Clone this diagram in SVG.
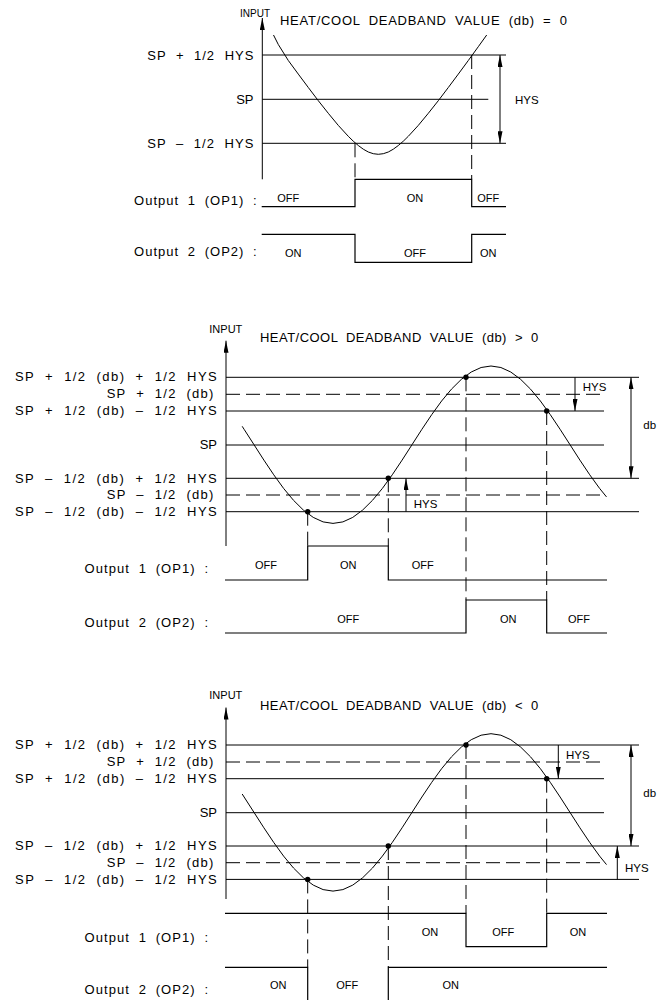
<svg xmlns="http://www.w3.org/2000/svg" xmlns:xlink="http://www.w3.org/1999/xlink" width="670" height="1000" viewBox="0 0 670 1000">
<style>
.ln{stroke:#000;stroke-width:1;fill:none}
.dash{stroke-dasharray:14 6}
.sig{stroke:#000;stroke-width:1.2;fill:none}
.crv{stroke:#000;stroke-width:1;fill:none;stroke-linejoin:round}
text{font-family:"Liberation Sans",Arial,sans-serif;fill:#000}
.lbl{font-size:13px;word-spacing:5px}
.out{font-size:13px;word-spacing:4px}
.st{font-size:11px;text-anchor:middle}
.ttl{font-size:13px;word-spacing:4px}
.inp{font-size:10.5px}
.hys{font-size:11.5px}
.end{text-anchor:end}
</style>
<defs>
<marker id="ah" viewBox="0 0 12 5" refX="12" refY="2.5" markerWidth="12" markerHeight="5" markerUnits="userSpaceOnUse" orient="auto-start-reverse"><path d="M0,0 L12,2.5 L0,5 z" fill="#000"/></marker>
<polyline id="wave" class="crv" points="242.2,426.3 244.1,429.3 254,444.7 263.9,460.1 273.75,474.8 283.6,488.4 293.5,500.3 303.4,510.1 313.25,517.4 323.1,521.9 333,523.4 342.9,521.9 352.75,517.4 362.6,510.1 372.5,500.3 382.4,488.4 392.25,474.8 402.1,460.1 412,444.7 421.9,429.3 431.75,414.6 441.6,401 451.5,389.1 461.4,379.3 471.25,372 481.1,367.5 491,366 500.9,367.5 510.75,372 520.6,379.3 530.5,389.1 540.4,401 550.25,414.6 560.1,429.3 570,444.7 579.9,460.1 589.75,474.8 599.6,488.4 606.5,496.9"/>
</defs>
<rect width="670" height="1000" fill="#fff"/>

<!-- ================= PANEL 1: db = 0 ================= -->
<g id="panel-db-zero">
  <g id="p1-axis">
    <line class="ln" x1="262.3" y1="179.3" x2="262.3" y2="18" marker-end="url(#ah)"/>
    <text class="inp" x="240" y="17.3" style="font-size:10px">INPUT</text>
    <text class="ttl" x="280" y="25" textLength="287" lengthAdjust="spacing">HEAT/COOL DEADBAND VALUE (db) = 0</text>
  </g>
  <g id="p1-levels">
    <line class="ln" x1="262.3" y1="55" x2="506" y2="55"/>
    <line class="ln" x1="262.3" y1="99.3" x2="488.3" y2="99.3"/>
    <line class="ln" x1="262.3" y1="143.3" x2="506" y2="143.3"/>
    <text class="lbl" x="147.3" y="59.5" textLength="106" lengthAdjust="spacing">SP + 1/2 HYS</text>
    <text class="lbl end" x="253.5" y="103.8">SP</text>
    <text class="lbl" x="147.3" y="147.8" textLength="106" lengthAdjust="spacing">SP – 1/2 HYS</text>
  </g>
  <g id="p1-curve">
    <polyline class="crv" points="273.5,35 278.3,44.5 288.3,60.5 298.3,74.1 308.3,87.5 318.3,100.7 328.3,113.3 338.3,125.4 348.3,136.3 353.3,141.2 358.3,145.5 363.3,149.2 368.3,152 373.3,153.7 378.3,154.3 383.3,153.7 388.3,152 393.3,149.2 398.3,145.5 403.3,141.2 408.3,136.3 418.3,125.4 428.3,113.3 438.3,100.7 448.3,87.5 458.3,74.1 468.3,60.5 478.3,46.7 486.7,35"/>
  </g>
  <g id="p1-hys">
    <line class="ln" x1="500" y1="55" x2="500" y2="143.3" marker-start="url(#ah)" marker-end="url(#ah)"/>
    <text class="hys" x="515" y="103.5">HYS</text>
  </g>
  <g id="p1-op1">
    <text class="out" x="134" y="205" textLength="122.7" lengthAdjust="spacing">Output 1 (OP1) :</text>
    <polyline class="sig" points="261.7,206.7 355,206.7 355,179.3 471.7,179.3 471.7,206.7 506,206.7"/>
    <text class="st" x="288.3" y="201.7">OFF</text>
    <text class="st" x="415" y="201.7">ON</text>
    <text class="st" x="488.3" y="201.7">OFF</text>
  </g>
  <g id="p1-op2">
    <text class="out" x="134" y="256" textLength="122.7" lengthAdjust="spacing">Output 2 (OP2) :</text>
    <polyline class="sig" points="261.7,234.3 355,234.3 355,262.3 471.7,262.3 471.7,234.3 506,234.3"/>
    <text class="st" x="293.3" y="257.3">ON</text>
    <text class="st" x="415" y="257.3">OFF</text>
    <text class="st" x="488.3" y="257.3">ON</text>
  </g>
  <g id="p1-connectors">
    <line class="ln dash" x1="355" y1="143.3" x2="355" y2="179.3"/>
    <line class="ln dash" x1="471.7" y1="55" x2="471.7" y2="179.3"/>
  </g>
</g>

<!-- ================= PANEL 2: db > 0 ================= -->
<g id="panel-db-pos">
  <g id="p2-axis">
    <line class="ln" x1="226" y1="546" x2="226" y2="340.7" marker-end="url(#ah)"/>
    <text class="inp" x="209.3" y="332.7" style="font-size:11px">INPUT</text>
    <text class="ttl" x="260" y="341.7" textLength="278.3" lengthAdjust="spacing">HEAT/COOL DEADBAND VALUE (db) &gt; 0</text>
  </g>
  <g id="p2-levels">
    <line class="ln" x1="226" y1="377.3" x2="639" y2="377.3"/>
    <line class="ln dash" x1="226" y1="394.3" x2="606" y2="394.3"/>
    <line class="ln" x1="226" y1="411" x2="604" y2="411"/>
    <line class="ln" x1="226" y1="445" x2="604" y2="445"/>
    <line class="ln" x1="226" y1="478.3" x2="639" y2="478.3"/>
    <line class="ln dash" x1="226" y1="495" x2="606" y2="495"/>
    <line class="ln" x1="226" y1="511.7" x2="639" y2="511.7"/>
    <text class="lbl" x="15" y="381.3" textLength="201.7" lengthAdjust="spacing">SP + 1/2 (db) + 1/2 HYS</text>
    <text class="lbl" x="106.7" y="398" textLength="106.7" lengthAdjust="spacing">SP + 1/2 (db)</text>
    <text class="lbl" x="15" y="414.8" textLength="201.7" lengthAdjust="spacing">SP + 1/2 (db) – 1/2 HYS</text>
    <text class="lbl end" x="217" y="448.8">SP</text>
    <text class="lbl" x="15" y="482.6" textLength="201.7" lengthAdjust="spacing">SP – 1/2 (db) + 1/2 HYS</text>
    <text class="lbl" x="106.7" y="499" textLength="106.7" lengthAdjust="spacing">SP – 1/2 (db)</text>
    <text class="lbl" x="15" y="516" textLength="201.7" lengthAdjust="spacing">SP – 1/2 (db) – 1/2 HYS</text>
  </g>
  <g id="p2-curve">
    <use xlink:href="#wave" href="#wave"/>
    <circle cx="307.7" cy="511.7" r="2.7"/>
    <circle cx="388.3" cy="478.3" r="2.7"/>
    <circle cx="466" cy="377.3" r="2.7"/>
    <circle cx="546.7" cy="411" r="2.7"/>
  </g>
  <g id="p2-dims">
    <line class="ln" x1="575" y1="377.3" x2="575" y2="411" marker-end="url(#ah)"/>
    <text class="hys" x="582.7" y="390.7">HYS</text>
    <line class="ln" x1="406" y1="511.7" x2="406" y2="478.3" marker-end="url(#ah)"/>
    <text class="hys" x="413.7" y="508.3">HYS</text>
    <line class="ln" x1="631" y1="377.3" x2="631" y2="478.3" marker-start="url(#ah)" marker-end="url(#ah)"/>
    <text class="hys" x="643.3" y="429.3">db</text>
  </g>
  <g id="p2-op1">
    <text class="out" x="84.5" y="573" textLength="123.5" lengthAdjust="spacing">Output 1 (OP1) :</text>
    <polyline class="sig" points="225,580 307.7,580 307.7,546 388.3,546 388.3,580 607,580"/>
    <text class="st" x="266" y="569.3">OFF</text>
    <text class="st" x="348.3" y="569.3">ON</text>
    <text class="st" x="422.7" y="569.3">OFF</text>
  </g>
  <g id="p2-op2">
    <text class="out" x="84.5" y="627" textLength="123.5" lengthAdjust="spacing">Output 2 (OP2) :</text>
    <polyline class="sig" points="225,633 466,633 466,600 546.7,600 546.7,633 607,633"/>
    <text class="st" x="348.3" y="623.3">OFF</text>
    <text class="st" x="508.3" y="623.3">ON</text>
    <text class="st" x="579" y="623.3">OFF</text>
  </g>
  <g id="p2-connectors">
    <line class="ln dash" x1="307.7" y1="511.7" x2="307.7" y2="546"/>
    <line class="ln dash" x1="388.3" y1="478.3" x2="388.3" y2="546"/>
    <line class="ln dash" x1="466" y1="377.3" x2="466" y2="600"/>
    <line class="ln dash" x1="546.7" y1="411" x2="546.7" y2="600"/>
  </g>
</g>

<!-- ================= PANEL 3: db < 0 ================= -->
<g id="panel-db-neg">
  <g id="p3-axis">
    <line class="ln" x1="226" y1="899" x2="226" y2="707.5" marker-end="url(#ah)"/>
    <text class="inp" x="209.3" y="699.3" style="font-size:11px">INPUT</text>
    <text class="ttl" x="260" y="709.5" textLength="278.3" lengthAdjust="spacing">HEAT/COOL DEADBAND VALUE (db) &lt; 0</text>
  </g>
  <g id="p3-levels">
    <line class="ln" x1="226" y1="745" x2="639" y2="745"/>
    <line class="ln dash" x1="226" y1="762" x2="606" y2="762"/>
    <line class="ln" x1="226" y1="778.7" x2="604" y2="778.7"/>
    <line class="ln" x1="226" y1="812.7" x2="604" y2="812.7"/>
    <line class="ln" x1="226" y1="846" x2="639" y2="846"/>
    <line class="ln dash" x1="226" y1="862.7" x2="606" y2="862.7"/>
    <line class="ln" x1="226" y1="879.4" x2="639" y2="879.4"/>
    <text class="lbl" x="15" y="749" textLength="201.7" lengthAdjust="spacing">SP + 1/2 (db) + 1/2 HYS</text>
    <text class="lbl" x="106.7" y="765.7" textLength="106.7" lengthAdjust="spacing">SP + 1/2 (db)</text>
    <text class="lbl" x="15" y="782.5" textLength="201.7" lengthAdjust="spacing">SP + 1/2 (db) – 1/2 HYS</text>
    <text class="lbl end" x="217" y="816.5">SP</text>
    <text class="lbl" x="15" y="850.3" textLength="201.7" lengthAdjust="spacing">SP – 1/2 (db) + 1/2 HYS</text>
    <text class="lbl" x="106.7" y="866.7" textLength="106.7" lengthAdjust="spacing">SP – 1/2 (db)</text>
    <text class="lbl" x="15" y="883.7" textLength="201.7" lengthAdjust="spacing">SP – 1/2 (db) – 1/2 HYS</text>
  </g>
  <g id="p3-curve">
    <use xlink:href="#wave" href="#wave" transform="translate(0,367.7)"/>
    <circle cx="307.7" cy="879.4" r="2.7"/>
    <circle cx="388.3" cy="846" r="2.7"/>
    <circle cx="466" cy="745" r="2.7"/>
    <circle cx="546.7" cy="778.7" r="2.7"/>
  </g>
  <g id="p3-dims">
    <line class="ln" x1="558.3" y1="745" x2="558.3" y2="778.7" marker-end="url(#ah)"/>
    <text class="hys" x="566" y="759.3">HYS</text>
    <line class="ln" x1="617.3" y1="879.4" x2="617.3" y2="846" marker-end="url(#ah)"/>
    <text class="hys" x="625" y="871.7">HYS</text>
    <line class="ln" x1="631" y1="745" x2="631" y2="846" marker-start="url(#ah)" marker-end="url(#ah)"/>
    <text class="hys" x="643.3" y="797.3">db</text>
  </g>
  <g id="p3-op1">
    <text class="out" x="84.5" y="942" textLength="123.5" lengthAdjust="spacing">Output 1 (OP1) :</text>
    <polyline class="sig" points="225,913.3 466,913.3 466,946.7 546.7,946.7 546.7,913.3 607,913.3"/>
    <text class="st" x="430" y="936">ON</text>
    <text class="st" x="503.3" y="936">OFF</text>
    <text class="st" x="578" y="936">ON</text>
  </g>
  <g id="p3-op2">
    <text class="out" x="84.5" y="993.5" textLength="123.5" lengthAdjust="spacing">Output 2 (OP2) :</text>
    <polyline class="sig" points="225,967.3 307.7,967.3 307.7,1002"/>
    <polyline class="sig" points="388.3,1002 388.3,967.3 607,967.3"/>
    <text class="st" x="278.3" y="989.3">ON</text>
    <text class="st" x="347.3" y="989.3">OFF</text>
    <text class="st" x="450.7" y="989.3">ON</text>
  </g>
  <g id="p3-connectors">
    <line class="ln dash" x1="307.7" y1="879.4" x2="307.7" y2="967.3"/>
    <line class="ln dash" x1="388.3" y1="846" x2="388.3" y2="967.3"/>
    <line class="ln dash" x1="466" y1="745" x2="466" y2="913.3"/>
    <line class="ln dash" x1="546.7" y1="778.7" x2="546.7" y2="913.3"/>
  </g>
</g>
</svg>
